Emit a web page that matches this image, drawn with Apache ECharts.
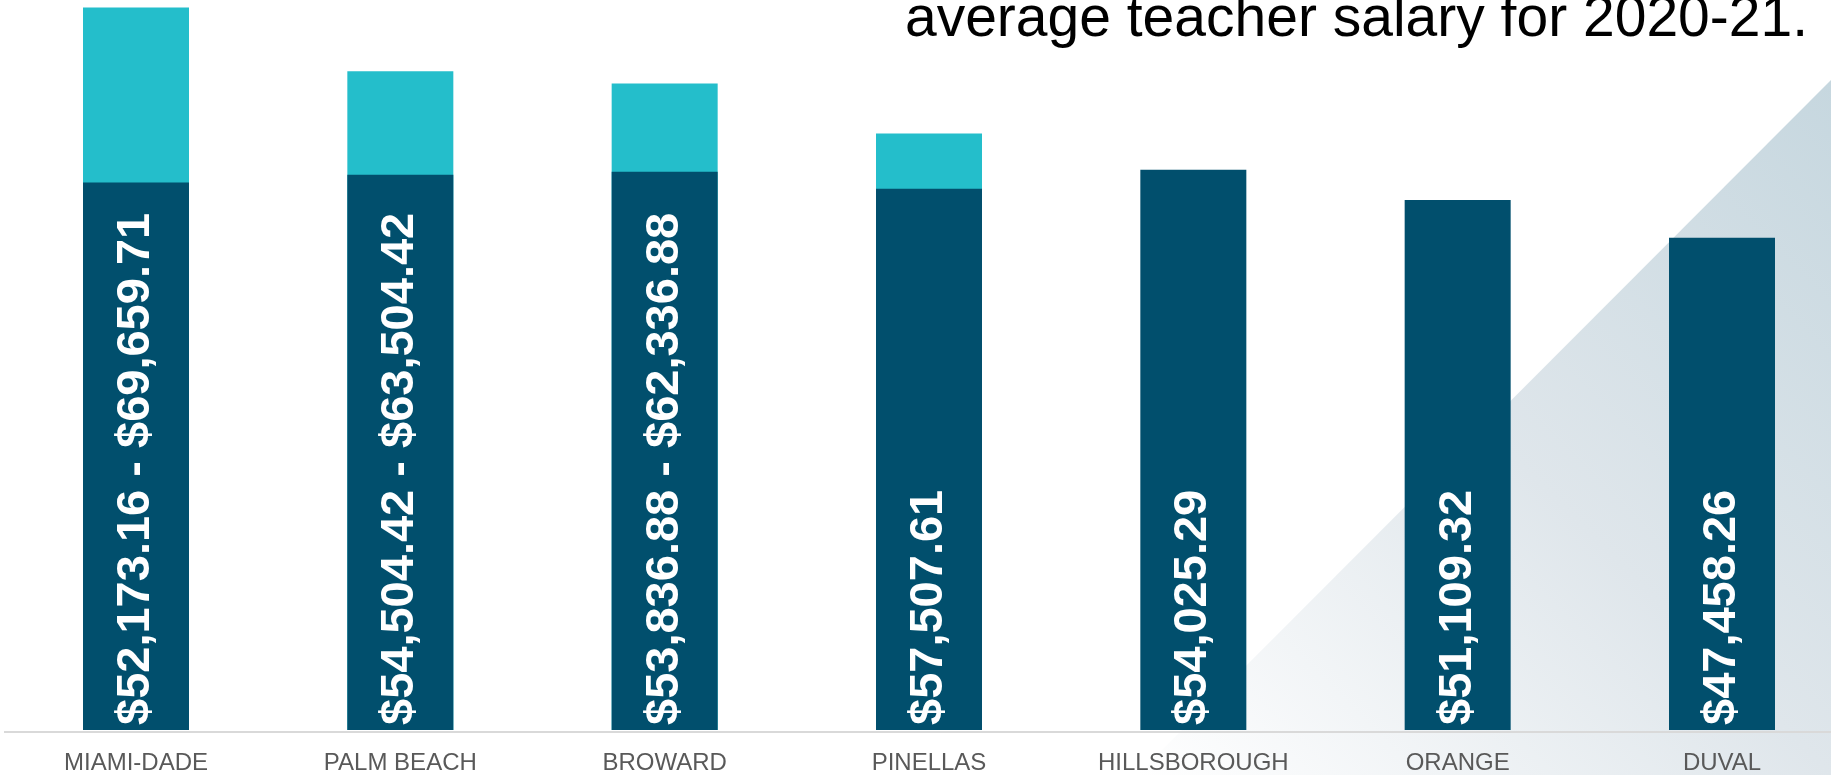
<!DOCTYPE html>
<html>
<head>
<meta charset="utf-8">
<script src="https://cdn.jsdelivr.net/npm/echarts@6/dist/echarts.min.js"></script>
<style>
html,body{margin:0;padding:0;background:#ffffff;}
#chart{width:1831px;height:775px;}
</style>
</head>
<body>
<div id="chart"></div>
<script>
const categories = ['MIAMI-DADE', 'PALM BEACH', 'BROWARD', 'PINELLAS', 'HILLSBOROUGH', 'ORANGE', 'DUVAL'];
const baseSalary = [52790, 53530, 53836.88, 52185, 54025.29, 51109.32, 47458.26];
const topSalary = [69659.71, 63504.42, 62336.88, 57507.61, null, null, null];
const barLabels = ['$52,173.16 - $69,659.71', '$54,504.42 - $63,504.42', '$53,836.88 - $62,336.88', '$57,507.61', '$54,025.29', '$51,109.32', '$47,458.26'];
const titleText = 'average teacher salary for 2020-21.';

const chart = echarts.init(document.getElementById('chart'), null, {renderer: 'canvas'});
chart.setOption({
  backgroundColor: '#ffffff',
  animation: false,
  graphic: [
    {
      type: 'polygon',
      z: 0,
      silent: true,
      shape: {points: [[1831, 80], [1831, 775], [1137, 775]]},
      style: {
        fill: {
          type: 'linear', x: 1, y: 0, x2: 0, y2: 1,
          colorStops: [
            {offset: 0, color: '#c6d7df'},
            {offset: 0.5, color: '#dfe6eb'},
            {offset: 1, color: '#ffffff'}
          ]
        }
      }
    },
    {
      type: 'line',
      z: 1,
      silent: true,
      shape: {x1: 4, y1: 732, x2: 1831, y2: 732},
      style: {stroke: '#d9d9d9', lineWidth: 2}
    },
    {
      type: 'text',
      z: 10,
      right: 23,
      top: -8,
      style: {
        text: titleText,
        fill: '#000000',
        font: '57px "Liberation Sans", Arial, sans-serif'
      }
    }
  ],
  grid: {left: 136, width: 1586, top: 4, bottom: 44, containLabel: false},
  xAxis: {
    type: 'category',
    data: categories,
    boundaryGap: false,
    axisLine: {show: false},
    axisTick: {show: false},
    axisLabel: {
      color: '#595959',
      fontSize: 24,
      fontFamily: '"Liberation Sans", Arial, sans-serif',
      margin: 21,
      interval: 0
    }
  },
  yAxis: {
    type: 'value',
    min: 0,
    max: 70000,
    show: false,
    splitLine: {show: false}
  },
  series: [
    {
      name: 'top',
      type: 'bar',
      data: topSalary,
      barWidth: 106,
      barGap: '-100%',
      clip: false,
      itemStyle: {color: '#24becb'},
      z: 2
    },
    {
      name: 'base',
      type: 'bar',
      data: baseSalary,
      barWidth: 106,
      barGap: '-100%',
      clip: false,
      itemStyle: {color: '#014f6d'},
      z: 3,
      label: {
        show: true,
        position: 'insideBottom',
        rotate: 90,
        align: 'left',
        verticalAlign: 'middle',
        distance: 5,
        color: '#ffffff',
        fontWeight: 'bold',
        fontSize: 47,
        fontFamily: '"Liberation Sans", Arial, sans-serif',
        formatter: function (p) { return barLabels[p.dataIndex]; }
      }
    }
  ]
});
</script>
</body>
</html>
